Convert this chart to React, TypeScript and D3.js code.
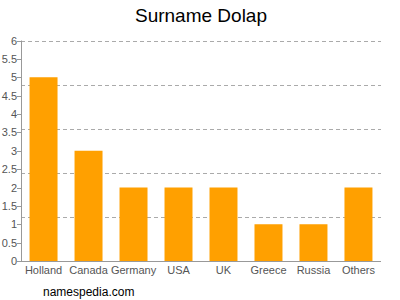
import React from "react";
import * as d3 from "d3";

const categories = ["Holland", "Canada", "Germany", "USA", "UK", "Greece", "Russia", "Others"];
const values = [5, 3, 2, 2, 2, 1, 1, 2];
const tickValues = [0, 0.5, 1, 1.5, 2, 2.5, 3, 3.5, 4, 4.5, 5, 5.5, 6];
const gridValues = [1.2, 2.4, 3.6, 4.8, 6];

export default function App() {
  const W = 400, H = 300;
  const left = 21, right = 381, top = 40.5, bottom = 261;
  const x = d3.scaleBand<string>().domain(categories).range([left, right]).paddingInner(0.378).paddingOuter(0.19);
  const y = d3.scaleLinear().domain([0, 6]).range([bottom, top]);
  const font = "Arial, 'Liberation Sans', Helvetica, sans-serif";
  return (
    <svg width={W} height={H} style={{ position: "absolute", left: 0, top: 0 }} fontFamily={font}>
      <rect width={W} height={H} fill="#fff" />
      <text x={201} y={22} textAnchor="middle" fontSize={19} fill="#000">Surname Dolap</text>
      {gridValues.map((g) => (
        <line key={g} x1={left} x2={right} y1={Math.round(y(g)) + 0.5} y2={Math.round(y(g)) + 0.5}
          stroke="#aaa" strokeDasharray="4,3" strokeWidth={1} />
      ))}
      {categories.map((c, i) => (
        <rect key={c} x={x(c)} y={y(values[i])} width={x.bandwidth()} height={bottom - y(values[i])} fill="#FFA000" />
      ))}
      <line x1={left + 0.5} x2={left + 0.5} y1={top} y2={bottom} stroke="#999" />
      <line x1={left} x2={right} y1={bottom + 0.5} y2={bottom + 0.5} stroke="#999" />
      {tickValues.map((t) => (
        <g key={t}>
          <line x1={left - 4} x2={left} y1={Math.round(y(t)) + 0.5} y2={Math.round(y(t)) + 0.5} stroke="#999" />
          <text x={left - 4} y={y(t) + 4} textAnchor="end" fontSize={11} fill="#555">{t}</text>
        </g>
      ))}
      {categories.map((c) => (
        <text key={c} x={(x(c) as number) + x.bandwidth() / 2} y={274} textAnchor="middle" fontSize={11} fill="#555">{c}</text>
      ))}
      <text x={43} y={296} fontSize={12} fill="#000">namespedia.com</text>
    </svg>
  );
}
